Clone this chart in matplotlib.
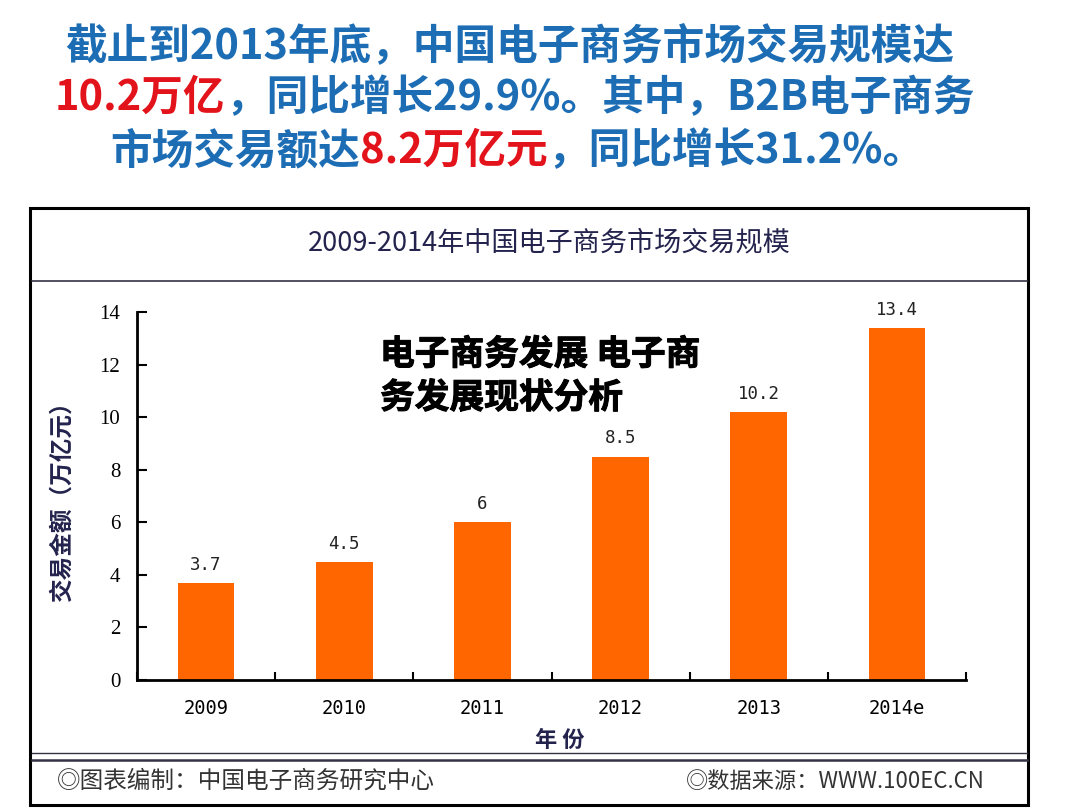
import numpy as np
import matplotlib
matplotlib.use('Agg')
import matplotlib.pyplot as plt
import matplotlib.patheffects as pe
from matplotlib.patches import Rectangle
from matplotlib.lines import Line2D

plt.rcParams['font.family'] = ['Noto Sans CJK SC', 'DejaVu Sans']

years = ['2009', '2010', '2011', '2012', '2013', '2014e']
values = [3.7, 4.5, 6, 8.5, 10.2, 13.4]
value_labels = ['3.7', '4.5', '6', '8.5', '10.2', '13.4']

title = '2009-2014年中国电子商务市场交易规模'
ylabel = '交易金额（万亿元）'
xlabel = '年 份'
foot_left = '◎图表编制：中国电子商务研究中心'
foot_right = '◎数据来源：WWW.100EC.CN'
overlay = '电子商务发展 电子商\n务发展现状分析'

BLUE = '#1d6db5'
RED = '#e3131b'
NAVY = '#23234d'
ORANGE = '#ff6600'

head_lines = [
    (65, 45, [('截止到2013年底，中国电子商务市场交易规模达', BLUE)]),
    (55, 97, [('10.2万亿', RED), ('，同比增长29.9%。其中，B2B电子商务', BLUE)]),
    (110, 150, [('市场交易额达', BLUE), ('8.2万亿元', RED), ('，同比增长31.2%。', BLUE)]),
]

W, H = 1080, 810
fig = plt.figure(figsize=(10.8, 8.1), dpi=100)

def fx(px):
    return px / W

def fy(py):
    return 1 - py / H

ax = fig.add_axes([fx(137), fy(680), fx(966) - fx(137), fy(312) - fy(680)])

# chart frame
fig.add_artist(Rectangle((fx(30), fy(805)), fx(1028) - fx(30), fy(208) - fy(805),
                         transform=fig.transFigure, fill=False, ec='black', lw=2.2))
fig.add_artist(Line2D([fx(32), fx(1027)], [fy(281), fy(281)], transform=fig.transFigure,
                      color='#333344', lw=1.2))
fig.add_artist(Line2D([fx(32), fx(1027)], [fy(753), fy(753)], transform=fig.transFigure,
                      color='#333344', lw=1.0))
fig.add_artist(Line2D([fx(32), fx(1027)], [fy(760), fy(760)], transform=fig.transFigure,
                      color='#333344', lw=1.8))

x = np.arange(len(years))
ax.bar(x, values, width=0.41, color=ORANGE)
for xi, v, lab in zip(x, values, value_labels):
    ax.text(xi, v + 0.35, lab, ha='center', va='bottom', fontsize=12.5,
            family='DejaVu Sans Mono', color='#222222')

ax.set_xlim(-0.5, len(years) - 0.5)
ax.set_ylim(0, 14)
ax.set_yticks(np.arange(0, 15, 2))
ax.set_yticklabels([str(t) for t in range(0, 15, 2)], family='Liberation Serif', fontsize=15)
ax.set_xticks(np.arange(-0.5, len(years), 1))
ax.set_xticklabels([])
ax.set_xticks(x, minor=True)
ax.set_xticklabels(years, minor=True, family='DejaVu Sans Mono', fontsize=13.5)
ax.tick_params(axis='x', which='minor', length=0, pad=14)
ax.tick_params(axis='x', which='major', direction='in', length=6, width=1.5)
ax.tick_params(axis='y', direction='in', length=7, width=1.5, pad=12)
for s in ['top', 'right']:
    ax.spines[s].set_visible(False)
for s in ['left', 'bottom']:
    ax.spines[s].set_linewidth(2)

fig.text(fx(549), fy(243), title, ha='center', va='center', fontsize=19.5,
         color=NAVY, weight='medium')
fig.text(fx(62), fy(495), ylabel, ha='center', va='center', rotation=90,
         fontsize=17, weight='bold', color=NAVY)
fig.text(fx(560), fy(740), xlabel, ha='center', va='center', fontsize=16,
         weight='bold', color=NAVY)
fig.text(fx(57), fy(781), foot_left, ha='left', va='center', fontsize=17, color='#333333')
fig.text(fx(985), fy(781), foot_right, ha='right', va='center', fontsize=16, color='#333333')

fig.text(fx(380), fy(376), overlay, ha='left', va='center', fontsize=25,
         weight='heavy', color='black', linespacing=1.3,
         path_effects=[pe.withStroke(linewidth=0.7, foreground='black')])

# headline with coloured segments
for x0, y0, parts in head_lines:
    prev = fig.text(fx(x0), fy(y0 + 13), parts[0][0], color=parts[0][1], fontsize=30,
                    weight='bold', va='baseline', ha='left')
    for s, c in parts[1:]:
        prev = ax.annotate(s, xy=(1, fy(y0 + 13)), xycoords=(prev, 'figure fraction'),
                           color=c, fontsize=30, weight='bold', va='baseline', ha='left',
                           annotation_clip=False)

fig.savefig('out.png', dpi=100)
